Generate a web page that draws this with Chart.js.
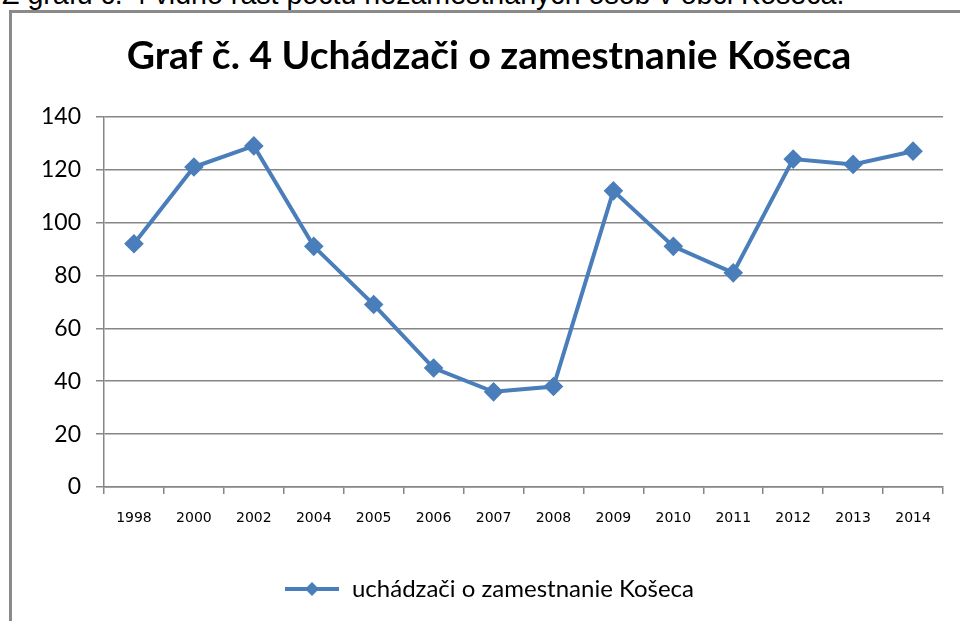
<!DOCTYPE html>
<html>
<head>
<meta charset="utf-8">
<script src="https://cdn.jsdelivr.net/npm/chart.js@4.4.1/dist/chart.umd.min.js"></script>
<style>
  html, body { margin: 0; padding: 0; background: #fff; overflow: hidden; }
  body { width: 960px; height: 621px; position: relative; }
  .caption {
    position: absolute; left: 2px; top: -20px;
    font: 28.6px "Liberation Sans", Arial, sans-serif; color: #000;
    white-space: nowrap; line-height: 1;
  }
  .frame {
    position: absolute; left: 9px; top: 10px; width: 960px; height: 620px;
    border-left: 3px solid #8a8a8a; border-top: 3px solid #8a8a8a;
  }
  .frame canvas { position: absolute; left: 0; top: 0; }
</style>
</head>
<body>
<div class="caption">Z grafu č. 4  vidno rast počtu nezamestnaných osôb v obci Košeca.</div>
<div class="frame">
  <canvas id="graf" width="954" height="608"></canvas>
</div>
<script>
const roky = ['1998', '2000', '2002', '2004', '2005', '2006', '2007', '2008', '2009', '2010', '2011', '2012', '2013', '2014'];
const uchadzaci = [92, 121, 129, 91, 69, 45, 36, 38, 112, 91, 81, 124, 122, 127];
const yTicks = [0, 20, 40, 60, 80, 100, 120, 140];

const modra = '#4a7ebb';
const siva = '#868686';

// legend marker: line + diamond
const znacka = document.createElement('canvas');
znacka.width = 56;
znacka.height = 18;
const zc = znacka.getContext('2d');
zc.strokeStyle = modra;
zc.lineWidth = 4;
zc.beginPath();
zc.moveTo(1, 9);
zc.lineTo(55, 9);
zc.stroke();
zc.fillStyle = modra;
zc.beginPath();
zc.moveTo(28, 2);
zc.lineTo(35, 9);
zc.lineTo(28, 16);
zc.lineTo(21, 9);
zc.closePath();
zc.fill();

new Chart(document.getElementById('graf'), {
  type: 'line',
  data: {
    labels: roky,
    datasets: [{
      label: 'uchádzači o zamestnanie Košeca',
      data: uchadzaci,
      borderColor: modra,
      backgroundColor: modra,
      borderWidth: 4,
      pointStyle: 'rectRot',
      pointRadius: 7,
      pointHoverRadius: 7,
      tension: 0
    }]
  },
  options: {
    responsive: false,
    animation: false,
    layout: { padding: { left: 23, right: 23, bottom: 10 } },
    plugins: {
      title: {
        display: true,
        text: 'Graf č. 4 Uchádzači o zamestnanie Košeca',
        color: '#000',
        font: { family: 'Lato', size: 39, weight: 'bold' },
        padding: { top: 20, bottom: 37 }
      },
      legend: {
        position: 'bottom',
        labels: {
          usePointStyle: true,
          pointStyleWidth: 56,
          color: '#000',
          font: { family: 'Lato', size: 24 },
          generateLabels: chart => chart.data.datasets.map((ds, i) => ({
            text: ds.label,
            pointStyle: znacka,
            datasetIndex: i,
            fontColor: '#000',
            lineWidth: 0,
            strokeStyle: 'transparent',
            fillStyle: 'transparent'
          }))
        }
      },
      tooltip: { enabled: false }
    },
    scales: {
      x: {
        offset: true,
        grid: {
          offset: true,
          drawOnChartArea: false,
          drawTicks: true,
          tickLength: 7,
          color: siva,
          lineWidth: 1.5
        },
        border: { color: siva, width: 1.5 },
        ticks: {
          color: '#000',
          font: { family: 'DejaVu Sans', size: 14 },
          padding: 16,
          maxRotation: 0,
          autoSkip: false
        },
        afterFit: s => { s.height = 80; }
      },
      y: {
        min: 0,
        max: 140,
        afterBuildTicks: s => { s.ticks = yTicks.map(v => ({ value: v })); },
        grid: { color: siva, lineWidth: 1.5, tickLength: 8 },
        border: { color: siva, width: 1.5 },
        ticks: {
          color: '#000',
          font: { family: 'Lato', size: 23 },
          padding: 15
        },
        afterFit: s => { s.width = 69; }
      }
    }
  }
});
</script>
</body>
</html>
